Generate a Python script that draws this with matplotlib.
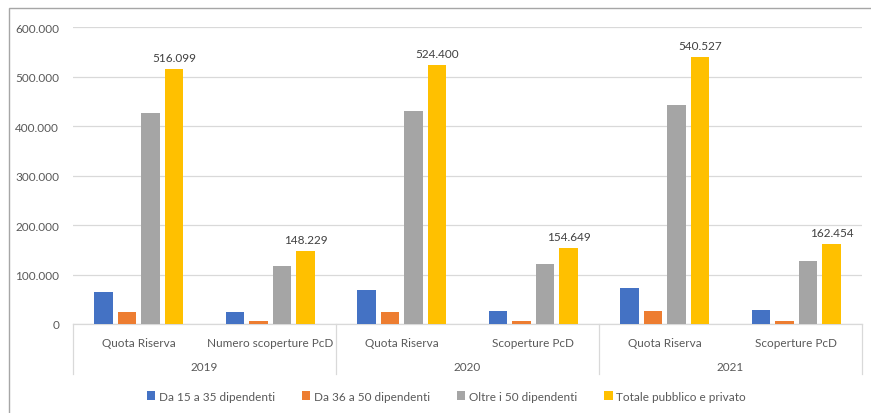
"""Grouped bars: quota riserva / scoperture PcD by company size, 2019-2021."""
import matplotlib
matplotlib.use("Agg")
import matplotlib.pyplot as plt
from matplotlib.patches import Rectangle
from matplotlib.ticker import FuncFormatter
import matplotlib.transforms as mtransforms
import numpy as np

plt.rcParams['font.family'] = ['Lato', 'DejaVu Sans']

categories = ["Quota Riserva", "Numero scoperture PcD",
              "Quota Riserva", "Scoperture PcD",
              "Quota Riserva", "Scoperture PcD"]
years = ["2019", "2020", "2021"]
series_names = ["Da 15 a 35 dipendenti", "Da 36 a 50 dipendenti",
                "Oltre i 50 dipendenti", "Totale pubblico e privato"]
da15_35 = [65000, 25000, 68000, 26000, 72000, 28000]
da36_50 = [25000, 6000, 25000, 6000, 26000, 6500]
oltre50 = [426000, 117000, 431000, 121000, 442000, 127000]
totale = [516099, 148229, 524400, 154649, 540527, 162454]

colors = ["#4472C4", "#ED7D31", "#A5A5A5", "#FFC000"]
TXT = "#595959"
FS = 8.5


def it_fmt(v, _pos=None):
    return f"{int(round(v)):,}".replace(",", ".")


fig = plt.figure(figsize=(8.71, 4.14), dpi=100)
ax = fig.add_axes([0.0838, 0.2150, 0.9059, 0.7166])

x = np.arange(len(categories))
step = 0.179
width = 0.14
all_series = [da15_35, da36_50, oltre50, totale]
for i, (vals, col, name) in enumerate(zip(all_series, colors, series_names)):
    ax.bar(x + (i - 1.5) * step, vals, width, color=col, label=name, zorder=3)

for xi, v in zip(x, totale):
    ax.text(xi + 1.5 * step, v + 12000, it_fmt(v), ha='center', va='bottom',
            fontsize=FS, color="#404040")

ax.set_xlim(-0.5, 5.5)
ax.set_ylim(0, 600000)
ax.set_yticks(np.arange(0, 600001, 100000))
ax.yaxis.set_major_formatter(FuncFormatter(it_fmt))
ax.tick_params(axis='y', length=0, labelsize=FS, labelcolor=TXT, pad=10)
ax.set_xticks([])
ax.grid(axis='y', color="#D9D9D9", linewidth=0.9, zorder=0)
for s in ax.spines.values():
    s.set_visible(False)

trans = mtransforms.blended_transform_factory(ax.transData, ax.transAxes)
ax.plot([-0.5, 5.5], [0, 0], color="#D9D9D9", lw=0.9, transform=trans,
        clip_on=False, zorder=2)
for bx in [-0.5, 1.5, 3.5, 5.5]:
    ax.plot([bx, bx], [0, -0.169], color="#D9D9D9", lw=0.9,
            transform=trans, clip_on=False)
for xi, lab in zip(x, categories):
    ax.text(xi, -0.064, lab, transform=trans, ha='center', va='center',
            fontsize=FS, color=TXT)
for k, yr in enumerate(years):
    ax.text(2 * k + 0.5, -0.142, yr, transform=trans, ha='center',
            va='center', fontsize=FS, color=TXT)

fig.legend(loc='center', bbox_to_anchor=(0.5126, 0.041), ncol=4,
           frameon=False, fontsize=FS, handlelength=0.7, handleheight=0.7,
           handletextpad=0.3, columnspacing=2.3, labelcolor=TXT)

fig.patches.append(Rectangle((9 / 871, -0.1), 1.2, 1 - 9 / 414 + 0.1,
                             transform=fig.transFigure, fill=False,
                             edgecolor="#A6A6A6", linewidth=1.0))

fig.savefig("out.png", dpi=100)
